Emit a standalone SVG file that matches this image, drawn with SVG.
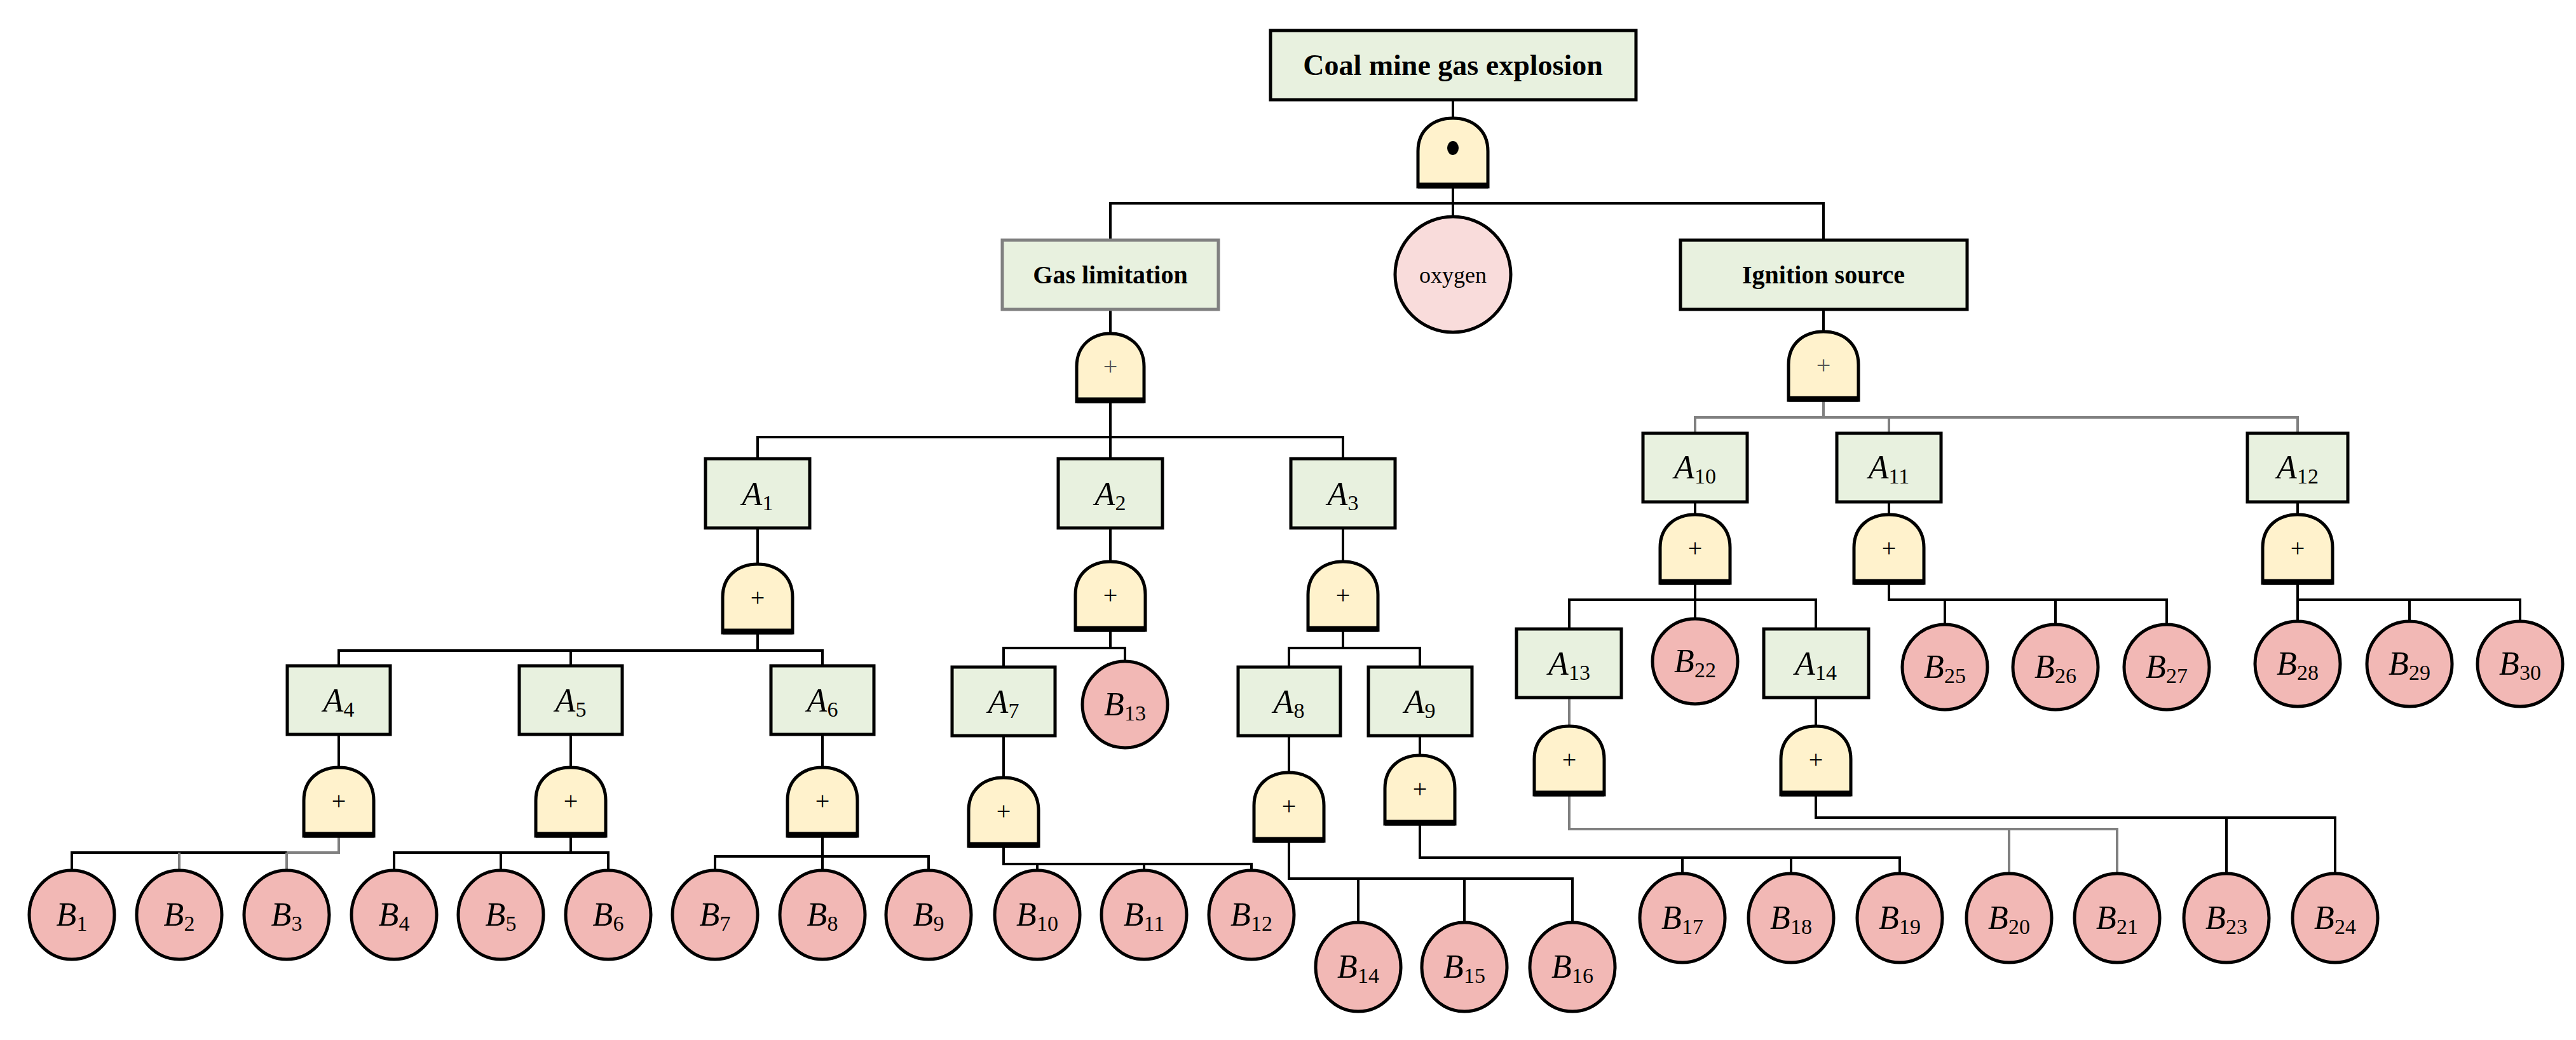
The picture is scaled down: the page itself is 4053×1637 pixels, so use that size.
<svg xmlns="http://www.w3.org/2000/svg" xmlns:xlink="http://www.w3.org/1999/xlink" width="4053" height="1637" viewBox="0 0 4053 1637">
<style>
.box{fill:#e8f1df;stroke:#000;stroke-width:5}
.gbox{fill:#e8f1df;stroke:#808080;stroke-width:5}
.bev{fill:#f2b8b5;stroke:#000;stroke-width:5}
.ox{fill:#f9dcdb;stroke:#000;stroke-width:5}
.gate{fill:#fff2cc;stroke:#000;stroke-width:5}
.gbot{stroke:#000;stroke-width:9}
.ln{fill:none;stroke:#000;stroke-width:4}
.gr{fill:none;stroke:#808080;stroke-width:4}
.t{font-family:"Liberation Serif",serif;text-anchor:middle}
.lab{font-family:"Liberation Serif",serif;font-style:italic;font-size:52px;text-anchor:middle}
.sub{font-size:34px;font-style:normal}
.plus{font-family:"Liberation Serif",serif;font-size:40px;text-anchor:middle}
</style>
<defs>
<g id="g">
<path class="gate" d="M-55 108V52C-55 18-30 0 0 0C30 0 55 18 55 52V108Z"/>
<line class="gbot" x1="-55" y1="106" x2="55" y2="106"/>
</g>
<g id="gp">
<use xlink:href="#g"/>
<text class="plus" x="0" y="66">+</text>
</g>
</defs>
<g id="connectors">
<path class="ln" d="M2286 157V185M2286 294V341M1747 378V320H2869V378"/>
<path class="ln" d="M1747 487V525M1747 632V722M1192 722V688H2113V722"/>
<path class="ln" d="M1192 831V888M1192 996V1024M533 1048V1024H1294V1048M898 1024V1048"/>
<path class="ln" d="M533 1156V1208M898 1156V1208M1294 1156V1208"/>
<path class="ln" d="M113 1370V1342H451M898 1316V1342M620 1370V1342H957V1370M788 1342V1370"/>
<path class="gr" d="M533 1316V1342H451M282 1342V1370M451 1342V1370"/>
<path class="ln" d="M1294 1316V1348M1125 1370V1348H1461V1370M1294 1348V1370"/>
<path class="ln" d="M1747 831V884M1747 992V1020M1579 1050V1020H1770V1041"/>
<path class="ln" d="M1579 1158V1224M1579 1332V1360H1969V1370M1632 1360V1370M1800 1360V1370"/>
<path class="ln" d="M2113 831V884M2113 992V1020M2028 1050V1020H2234V1050"/>
<path class="ln" d="M2028 1158V1216M2028 1324V1383H2474V1452M2137 1383V1452M2304 1383V1452"/>
<path class="ln" d="M2234 1158V1189M2234 1297V1350H2989V1375M2647 1350V1375M2818 1350V1375"/>
<path class="ln" d="M2869 487V522"/>
<path class="gr" d="M2869 630V657M2667 682V657H3615V682M2972 657V682"/>
<path class="ln" d="M2667 790V810M2972 790V810M3615 790V810"/>
<path class="ln" d="M2667 918V974M2469 990V944H2857V990"/>
<path class="gr" d="M2469 1098V1143M2469 1252V1305H3331V1375M3161 1305V1375"/>
<path class="ln" d="M2857 1098V1143M2857 1252V1287H3674V1375M3503 1287V1375"/>
<path class="ln" d="M2972 918V944H3409V981M3060 944V981M3234 944V981"/>
<path class="ln" d="M3615 918V976M3615 944H3965V976M3791 944V976"/>
</g>
<g id="top"><rect class="box" x="1999" y="48" width="575" height="109"/><text class="t" x="2286" y="118" font-size="46" font-weight="bold">Coal mine gas explosion</text></g>
<g id="gate-top"><use xlink:href="#g" x="2286" y="186"/><ellipse cx="2286" cy="233" rx="9" ry="11"/></g>
<g id="gas"><rect class="gbox" x="1577" y="378" width="340" height="109"/><text class="t" x="1747" y="446" font-size="40" font-weight="bold">Gas limitation</text></g>
<g id="oxygen"><circle class="ox" cx="2286" cy="432" r="91"/><text class="t" x="2286" y="445" font-size="36">oxygen</text></g>
<g id="ignition"><rect class="box" x="2644" y="378" width="451" height="109"/><text class="t" x="2869" y="446" font-size="40" font-weight="bold">Ignition source</text></g>
<g id="gate-gas"><path class="gate" d="M1694 632V577C1694 543 1719 525 1747 525C1775 525 1800 543 1800 577V632Z"/><line class="gbot" x1="1694" y1="630" x2="1800" y2="630"/><text class="plus" x="1747" y="590" font-size="30" fill="#555">+</text></g>
<g id="gate-ign"><use xlink:href="#g" x="2869" y="522"/><text class="plus" x="2869" y="588" font-size="30" fill="#555">+</text></g>
<g id="A1"><rect class="box" x="1110" y="722" width="164" height="109"/><text class="lab" x="1192" y="795">A<tspan class="sub" dy="8">1</tspan></text></g>
<g id="A2"><rect class="box" x="1665" y="722" width="164" height="109"/><text class="lab" x="1747" y="795">A<tspan class="sub" dy="8">2</tspan></text></g>
<g id="A3"><rect class="box" x="2031" y="722" width="164" height="109"/><text class="lab" x="2113" y="795">A<tspan class="sub" dy="8">3</tspan></text></g>
<g id="gA1"><use xlink:href="#gp" x="1192" y="888"/></g>
<g id="gA2"><use xlink:href="#gp" x="1747" y="884"/></g>
<g id="gA3"><use xlink:href="#gp" x="2113" y="884"/></g>
<g id="A4"><rect class="box" x="452" y="1048" width="162" height="108"/><text class="lab" x="533" y="1120">A<tspan class="sub" dy="8">4</tspan></text></g>
<g id="A5"><rect class="box" x="817" y="1048" width="162" height="108"/><text class="lab" x="898" y="1120">A<tspan class="sub" dy="8">5</tspan></text></g>
<g id="A6"><rect class="box" x="1213" y="1048" width="162" height="108"/><text class="lab" x="1294" y="1120">A<tspan class="sub" dy="8">6</tspan></text></g>
<g id="A7"><rect class="box" x="1498" y="1050" width="162" height="108"/><text class="lab" x="1579" y="1122">A<tspan class="sub" dy="8">7</tspan></text></g>
<g id="A8"><rect class="box" x="1948" y="1050" width="161" height="108"/><text class="lab" x="2028" y="1122">A<tspan class="sub" dy="8">8</tspan></text></g>
<g id="A9"><rect class="box" x="2153" y="1050" width="163" height="108"/><text class="lab" x="2234" y="1122">A<tspan class="sub" dy="8">9</tspan></text></g>
<g id="gA4"><use xlink:href="#gp" x="533" y="1208"/></g>
<g id="gA5"><use xlink:href="#gp" x="898" y="1208"/></g>
<g id="gA6"><use xlink:href="#gp" x="1294" y="1208"/></g>
<g id="gA7"><use xlink:href="#gp" x="1579" y="1224"/></g>
<g id="gA8"><use xlink:href="#gp" x="2028" y="1216"/></g>
<g id="gA9"><use xlink:href="#gp" x="2234" y="1189"/></g>
<g id="A10"><rect class="box" x="2585" y="682" width="164" height="108"/><text class="lab" x="2667" y="753">A<tspan class="sub" dy="8">10</tspan></text></g>
<g id="A11"><rect class="box" x="2890" y="682" width="164" height="108"/><text class="lab" x="2972" y="753">A<tspan class="sub" dy="8">11</tspan></text></g>
<g id="A12"><rect class="box" x="3536" y="682" width="158" height="108"/><text class="lab" x="3615" y="753">A<tspan class="sub" dy="8">12</tspan></text></g>
<g id="gA10"><use xlink:href="#gp" x="2667" y="810"/></g>
<g id="gA11"><use xlink:href="#gp" x="2972" y="810"/></g>
<g id="gA12"><use xlink:href="#gp" x="3615" y="810"/></g>
<g id="A13"><rect class="box" x="2386" y="990" width="165" height="108"/><text class="lab" x="2469" y="1062">A<tspan class="sub" dy="8">13</tspan></text></g>
<g id="A14"><rect class="box" x="2775" y="990" width="165" height="108"/><text class="lab" x="2857" y="1062">A<tspan class="sub" dy="8">14</tspan></text></g>
<g id="gA13"><use xlink:href="#gp" x="2469" y="1143"/></g>
<g id="gA14"><use xlink:href="#gp" x="2857" y="1143"/></g>
<g id="B1"><ellipse class="bev" cx="113" cy="1440" rx="67" ry="70"/><text class="lab" x="113" y="1457">B<tspan class="sub" dy="8">1</tspan></text></g>
<g id="B2"><ellipse class="bev" cx="282" cy="1440" rx="67" ry="70"/><text class="lab" x="282" y="1457">B<tspan class="sub" dy="8">2</tspan></text></g>
<g id="B3"><ellipse class="bev" cx="451" cy="1440" rx="67" ry="70"/><text class="lab" x="451" y="1457">B<tspan class="sub" dy="8">3</tspan></text></g>
<g id="B4"><ellipse class="bev" cx="620" cy="1440" rx="67" ry="70"/><text class="lab" x="620" y="1457">B<tspan class="sub" dy="8">4</tspan></text></g>
<g id="B5"><ellipse class="bev" cx="788" cy="1440" rx="67" ry="70"/><text class="lab" x="788" y="1457">B<tspan class="sub" dy="8">5</tspan></text></g>
<g id="B6"><ellipse class="bev" cx="957" cy="1440" rx="67" ry="70"/><text class="lab" x="957" y="1457">B<tspan class="sub" dy="8">6</tspan></text></g>
<g id="B7"><ellipse class="bev" cx="1125" cy="1440" rx="67" ry="70"/><text class="lab" x="1125" y="1457">B<tspan class="sub" dy="8">7</tspan></text></g>
<g id="B8"><ellipse class="bev" cx="1294" cy="1440" rx="67" ry="70"/><text class="lab" x="1294" y="1457">B<tspan class="sub" dy="8">8</tspan></text></g>
<g id="B9"><ellipse class="bev" cx="1461" cy="1440" rx="67" ry="70"/><text class="lab" x="1461" y="1457">B<tspan class="sub" dy="8">9</tspan></text></g>
<g id="B10"><ellipse class="bev" cx="1632" cy="1440" rx="67" ry="70"/><text class="lab" x="1632" y="1457">B<tspan class="sub" dy="8">10</tspan></text></g>
<g id="B11"><ellipse class="bev" cx="1800" cy="1440" rx="67" ry="70"/><text class="lab" x="1800" y="1457">B<tspan class="sub" dy="8">11</tspan></text></g>
<g id="B12"><ellipse class="bev" cx="1969" cy="1440" rx="67" ry="70"/><text class="lab" x="1969" y="1457">B<tspan class="sub" dy="8">12</tspan></text></g>
<g id="B13"><ellipse class="bev" cx="1770" cy="1109" rx="67" ry="68"/><text class="lab" x="1770" y="1126">B<tspan class="sub" dy="8">13</tspan></text></g>
<g id="B14"><ellipse class="bev" cx="2137" cy="1522" rx="67" ry="70"/><text class="lab" x="2137" y="1539">B<tspan class="sub" dy="8">14</tspan></text></g>
<g id="B15"><ellipse class="bev" cx="2304" cy="1522" rx="67" ry="70"/><text class="lab" x="2304" y="1539">B<tspan class="sub" dy="8">15</tspan></text></g>
<g id="B16"><ellipse class="bev" cx="2474" cy="1522" rx="67" ry="70"/><text class="lab" x="2474" y="1539">B<tspan class="sub" dy="8">16</tspan></text></g>
<g id="B17"><ellipse class="bev" cx="2647" cy="1445" rx="67" ry="70"/><text class="lab" x="2647" y="1462">B<tspan class="sub" dy="8">17</tspan></text></g>
<g id="B18"><ellipse class="bev" cx="2818" cy="1445" rx="67" ry="70"/><text class="lab" x="2818" y="1462">B<tspan class="sub" dy="8">18</tspan></text></g>
<g id="B19"><ellipse class="bev" cx="2989" cy="1445" rx="67" ry="70"/><text class="lab" x="2989" y="1462">B<tspan class="sub" dy="8">19</tspan></text></g>
<g id="B20"><ellipse class="bev" cx="3161" cy="1445" rx="67" ry="70"/><text class="lab" x="3161" y="1462">B<tspan class="sub" dy="8">20</tspan></text></g>
<g id="B21"><ellipse class="bev" cx="3331" cy="1445" rx="67" ry="70"/><text class="lab" x="3331" y="1462">B<tspan class="sub" dy="8">21</tspan></text></g>
<g id="B23"><ellipse class="bev" cx="3503" cy="1445" rx="67" ry="70"/><text class="lab" x="3503" y="1462">B<tspan class="sub" dy="8">23</tspan></text></g>
<g id="B24"><ellipse class="bev" cx="3674" cy="1445" rx="67" ry="70"/><text class="lab" x="3674" y="1462">B<tspan class="sub" dy="8">24</tspan></text></g>
<g id="B22"><ellipse class="bev" cx="2667" cy="1041" rx="67" ry="67"/><text class="lab" x="2667" y="1058">B<tspan class="sub" dy="8">22</tspan></text></g>
<g id="B25"><ellipse class="bev" cx="3060" cy="1050" rx="67" ry="67"/><text class="lab" x="3060" y="1067">B<tspan class="sub" dy="8">25</tspan></text></g>
<g id="B26"><ellipse class="bev" cx="3234" cy="1050" rx="67" ry="67"/><text class="lab" x="3234" y="1067">B<tspan class="sub" dy="8">26</tspan></text></g>
<g id="B27"><ellipse class="bev" cx="3409" cy="1050" rx="67" ry="67"/><text class="lab" x="3409" y="1067">B<tspan class="sub" dy="8">27</tspan></text></g>
<g id="B28"><ellipse class="bev" cx="3615" cy="1045" rx="67" ry="67"/><text class="lab" x="3615" y="1062">B<tspan class="sub" dy="8">28</tspan></text></g>
<g id="B29"><ellipse class="bev" cx="3791" cy="1045" rx="67" ry="67"/><text class="lab" x="3791" y="1062">B<tspan class="sub" dy="8">29</tspan></text></g>
<g id="B30"><ellipse class="bev" cx="3965" cy="1045" rx="67" ry="67"/><text class="lab" x="3965" y="1062">B<tspan class="sub" dy="8">30</tspan></text></g>
</svg>
